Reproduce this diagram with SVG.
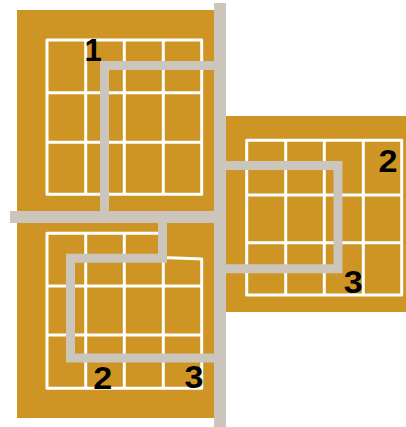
<svg xmlns="http://www.w3.org/2000/svg" width="406" height="427" viewBox="0 0 406 427">
<style>
.blk{fill:#CF9524}
.grid{fill:none;stroke:#FFFFFF;stroke-width:3;stroke-linejoin:round}
.lbl{font-family:"Liberation Sans",Arial,sans-serif;font-weight:bold;font-size:31px;fill:#000;text-anchor:middle}
.bar{fill:#CCC5BB}
.conn{fill:none;stroke:#CCC5BB;stroke-width:9;stroke-linejoin:miter;stroke-linecap:butt}
</style>
<rect width="406" height="427" fill="#FFFFFF"/>
<g id="node-top-left">
<rect class="blk" x="17" y="10" width="203" height="207"/>
<path class="grid" d="M47 40H201.7V194.3H47Z M85.7 40V194.3 M124.3 40V194.3 M163.3 40V194.3 M47 92.7H201.7 M47 142.3H201.7"/>
<text class="lbl" x="93" y="61">1</text>
</g>
<g id="node-right">
<rect class="blk" x="220" y="116" width="186" height="196"/>
<path class="grid" d="M246.7 140.3H401.7V295H246.7Z M285.7 140.3V295 M324.3 140.3V295 M363.3 140.3V295 M246.7 195H401.7 M246.7 242.7H401.7"/>
<text class="lbl" x="388" y="172" textLength="19" lengthAdjust="spacingAndGlyphs">2</text>
<text class="lbl" x="353.3" y="292.7" textLength="19" lengthAdjust="spacingAndGlyphs">3</text>
</g>
<g id="node-bottom-left">
<rect class="blk" x="17" y="217" width="203" height="201"/>
<path class="grid" d="M163.3 233.3H47V388.3H201.7V259L163.3 257.5 M163.3 233.3V388.3 M85.7 233.3V388.3 M124.3 233.3V388.3 M47 286H201.7 M47 335H201.7"/>
<text class="lbl" x="102.8" y="389" textLength="19" lengthAdjust="spacingAndGlyphs">2</text>
<text class="lbl" x="194" y="387.7" textLength="19" lengthAdjust="spacingAndGlyphs">3</text>
</g>
<g id="connectors">
<rect class="bar" x="214" y="3" width="12" height="424"/>
<rect class="bar" x="10" y="211" width="216" height="12"/>
<path class="conn" d="M220 65.5H104.5V217"/>
<path class="conn" d="M220 165.5H338V268.8H220"/>
<path class="conn" d="M162.5 217V258.3H70.5V358H220"/>
</g>
</svg>
